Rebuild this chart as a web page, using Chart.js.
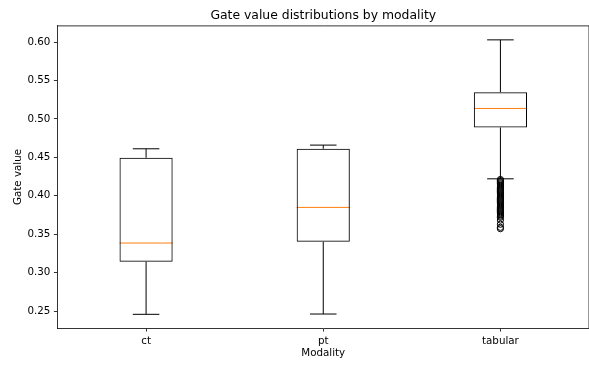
<!DOCTYPE html>
<html>
<head>
<meta charset="utf-8">
<script src="https://cdn.jsdelivr.net/npm/chart.js@4.4.1/dist/chart.umd.min.js"></script>
<style>
  html, body { margin: 0; padding: 0; background: #ffffff; }
  #wrap { width: 589px; height: 367px; }
</style>
</head>
<body>
<div id="wrap"><canvas id="chart" width="589" height="367"></canvas></div>
<script>
// Box-plot summary per modality
const categories = ['ct', 'pt', 'tabular'];
const whiskerLow  = [0.2457, 0.2461, 0.4221];
const quartile1   = [0.3142, 0.3402, 0.4890];
const medians     = [0.3385, 0.3849, 0.5137];
const quartile3   = [0.4495, 0.4612, 0.5349];
const whiskerHigh = [0.4612, 0.4660, 0.6030];

// Points beyond the lower whisker for the tabular modality
const tabularOutliers = [
  0.4212, 0.4198, 0.4185, 0.4170, 0.4156, 0.4141, 0.4127, 0.4112,
  0.4098, 0.4083, 0.4069, 0.4054, 0.4040, 0.4025, 0.4011, 0.3996,
  0.3982, 0.3967, 0.3953, 0.3938, 0.3924, 0.3909, 0.3895, 0.3880,
  0.3866, 0.3851, 0.3837, 0.3822, 0.3808, 0.3793, 0.3779, 0.3764,
  0.3750, 0.3735, 0.3720, 0.3684, 0.3630, 0.3590, 0.3572
];

// Axis ticks and limits
const yTicks = [0.25, 0.30, 0.35, 0.40, 0.45, 0.50, 0.55, 0.60];
const yMin = 0.2279;
const yMax = 0.6212;

const FONT = '"DejaVu Sans", sans-serif';
const MEDIAN_COLOR = '#ff7f0e';

// Whiskers, caps and median lines, plus the top/right frame
const boxParts = {
  id: 'boxParts',
  beforeDatasetsDraw(chart) {
    const { ctx, scales: { x, y } } = chart;
    const catWidth = x.getPixelForValue(1) - x.getPixelForValue(0);
    const boxHalf = catWidth * 0.15;
    const capHalf = boxHalf / 2;
    ctx.save();
    ctx.lineWidth = 1;
    categories.forEach((c, i) => {
      const cx = x.getPixelForValue(i);
      ctx.strokeStyle = '#000000';
      ctx.beginPath();
      ctx.moveTo(cx, y.getPixelForValue(quartile1[i]));
      ctx.lineTo(cx, y.getPixelForValue(whiskerLow[i]));
      ctx.moveTo(cx, y.getPixelForValue(quartile3[i]));
      ctx.lineTo(cx, y.getPixelForValue(whiskerHigh[i]));
      const lo = y.getPixelForValue(whiskerLow[i]);
      const hi = y.getPixelForValue(whiskerHigh[i]);
      ctx.moveTo(cx - capHalf, lo); ctx.lineTo(cx + capHalf, lo);
      ctx.moveTo(cx - capHalf, hi); ctx.lineTo(cx + capHalf, hi);
      ctx.stroke();
      const my = y.getPixelForValue(medians[i]);
      ctx.strokeStyle = MEDIAN_COLOR;
      ctx.beginPath();
      ctx.moveTo(cx - boxHalf, my); ctx.lineTo(cx + boxHalf, my);
      ctx.stroke();
    });
    ctx.restore();
  },
  afterDraw(chart) {
    const { ctx, chartArea: a } = chart;
    ctx.save();
    ctx.strokeStyle = '#000000';
    ctx.lineWidth = 0.8;
    ctx.beginPath();
    ctx.moveTo(a.left, a.top); ctx.lineTo(a.right, a.top);
    ctx.lineTo(a.right, a.bottom);
    ctx.stroke();
    ctx.restore();
  }
};

new Chart(document.getElementById('chart'), {
  data: {
    labels: categories,
    datasets: [
      {
        type: 'bar',
        data: categories.map((c, i) => [quartile1[i], quartile3[i]]),
        backgroundColor: 'rgba(0,0,0,0)',
        borderColor: '#000000',
        borderWidth: 1,
        borderSkipped: false,
        barPercentage: 0.3,
        categoryPercentage: 1.0
      },
      {
        type: 'line',
        data: tabularOutliers.map(v => ({ x: 'tabular', y: v })),
        showLine: false,
        pointStyle: 'circle',
        pointRadius: 3.1,
        pointBorderWidth: 1,
        pointBorderColor: '#000000',
        pointBackgroundColor: 'rgba(0,0,0,0)',
        clip: false
      }
    ]
  },
  options: {
    responsive: false,
    animation: false,
    devicePixelRatio: 1,
    layout: { autoPadding: false, padding: { left: 0, right: 0, top: 0, bottom: 0 } },
    plugins: {
      legend: { display: false },
      tooltip: { enabled: false },
      title: {
        display: true,
        fullSize: false,
        text: 'Gate value distributions by modality',
        color: '#000000',
        font: { family: FONT, size: 12.4, weight: 'normal' },
        padding: { top: 8, bottom: 3 }
      }
    },
    scales: {
      x: {
        type: 'category',
        offset: true,
        afterFit(scale) {
          scale.height = 39;
          scale.paddingLeft = 0;
          scale.paddingRight = 0;
        },
        grid: {
          offset: false,
          drawOnChartArea: false,
          drawTicks: true,
          tickLength: 3.6,
          color: '#000000',
          lineWidth: 0.8
        },
        border: { display: true, color: '#000000', width: 0.8 },
        ticks: {
          color: '#000000',
          padding: 3.5,
          font: { family: FONT, size: 10.3 }
        },
        title: {
          display: true,
          text: 'Modality',
          color: '#000000',
          font: { family: FONT, size: 10.3 },
          padding: { top: 0, bottom: 7 }
        }
      },
      y: {
        type: 'linear',
        min: yMin,
        max: yMax,
        afterFit(scale) {
          scale.width = 57.5;
          scale.paddingTop = 0;
          scale.paddingBottom = 0;
        },
        afterBuildTicks(scale) { scale.ticks = yTicks.map(v => ({ value: v })); },
        grid: {
          drawOnChartArea: false,
          drawTicks: true,
          tickLength: 3.6,
          color: '#000000',
          lineWidth: 0.8
        },
        border: { display: true, color: '#000000', width: 0.8 },
        ticks: {
          color: '#000000',
          padding: 3.5,
          font: { family: FONT, size: 10.3 },
          callback: v => v.toFixed(2)
        },
        title: {
          display: true,
          text: 'Gate value',
          color: '#000000',
          font: { family: FONT, size: 10.3 },
          padding: { top: 12, bottom: 0 }
        }
      }
    }
  },
  plugins: [boxParts]
});
</script>
</body>
</html>
